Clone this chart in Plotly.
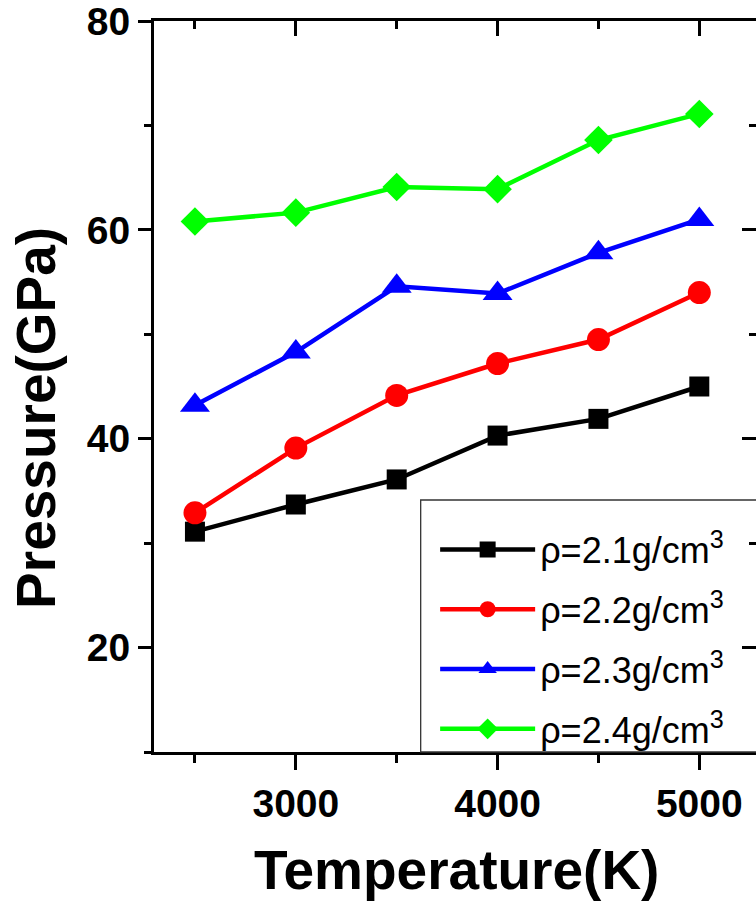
import plotly.graph_objects as go

temperature = [2500, 3000, 3500, 4000, 4500, 5000]
p_21 = [31.1, 33.7, 36.1, 40.3, 41.9, 45.0]
p_22 = [32.9, 39.1, 44.15, 47.2, 49.5, 54.0]
p_23 = [43.2, 48.3, 54.6, 53.9, 57.8, 61.0]
p_24 = [60.8, 61.65, 64.1, 63.9, 68.6, 71.1]

series_names = ["ρ=2.1g/cm<sup>3</sup>", "ρ=2.2g/cm<sup>3</sup>",
                "ρ=2.3g/cm<sup>3</sup>", "ρ=2.4g/cm<sup>3</sup>"]
series_values = [p_21, p_22, p_23, p_24]
series_colors = ["#000000", "#FF0000", "#0000FF", "#00FF00"]
series_symbols = ["square", "circle", "triangle-up", "diamond"]
series_sizes = [20, 23, 26, 22]

x_title = "Temperature(K)"
y_title = "Pressure(GPa)"

FONT = "Liberation Sans, Arial, sans-serif"

fig = go.Figure()
for name, vals, col, sym, sz in zip(series_names, series_values, series_colors,
                                    series_symbols, series_sizes):
    fig.add_trace(go.Scatter(
        x=temperature, y=vals, name=name, mode="lines+markers",
        line=dict(color=col, width=4.5),
        marker=dict(symbol=sym, size=sz, color=col, line=dict(width=0)),
        legendgroup=name,
    ))

axis_common = dict(showgrid=False, zeroline=False, linecolor="black",
                   linewidth=3, tickcolor="black", tickwidth=3)

fig.update_layout(
    width=756, height=905,
    margin=dict(l=154, r=0, t=18, b=153),
    paper_bgcolor="white", plot_bgcolor="white",
    font=dict(family=FONT, color="black"),
    xaxis=dict(range=[2297, 5281], tick0=3000, dtick=1000, ticks="outside",
               ticklen=15, showline=True, ticklabeloverflow="allow",
               tickfont=dict(size=39, family=FONT, weight="bold"),
               minor=dict(dtick=500, tick0=2500, ticks="outside", ticklen=8,
                          tickwidth=3, tickcolor="black"),
               **axis_common),
    yaxis=dict(range=[10, 80], tick0=0, dtick=20, ticks="outside",
               ticklen=13, showline=True, ticklabeloverflow="allow",
               tickfont=dict(size=39, family=FONT, weight="bold"),
               minor=dict(dtick=10, tick0=0, ticks="outside", ticklen=7,
                          tickwidth=3, tickcolor="black"),
               **axis_common),
    xaxis2=dict(overlaying="x", side="top", range=[2297, 5281], tick0=3000,
                dtick=1000, ticks="inside", ticklen=15, showticklabels=False,
                showline=True,
                minor=dict(dtick=500, tick0=2500, ticks="inside", ticklen=8,
                           tickwidth=3, tickcolor="black"),
                **axis_common),
    yaxis2=dict(overlaying="y", side="right", range=[10, 80], tick0=0,
                dtick=20, ticks="inside", ticklen=14, showticklabels=False,
                showline=False,
                minor=dict(dtick=10, tick0=0, ticks="inside", ticklen=7,
                           tickwidth=3, tickcolor="black"),
                **axis_common),
    legend=dict(x=0.467, y=0.318, xanchor="left", yanchor="top",
                bgcolor="rgba(0,0,0,0)", borderwidth=0,
                font=dict(size=36, family=FONT, color="black"),
                itemwidth=95, tracegroupgap=10),
    showlegend=True,
)

# dummy invisible trace to activate the overlay axes
fig.add_trace(go.Scatter(x=[None], y=[None], xaxis="x2", yaxis="y2",
                         showlegend=False, hoverinfo="skip"))

fig.add_shape(type="rect", xref="paper", yref="paper",
              x0=0.443, x1=1.05, y0=0.0, y1=0.3447,
              line=dict(color="#333333", width=1.3), fillcolor="rgba(0,0,0,0)")

fig.add_annotation(text=y_title, xref="paper", yref="paper", x=-0.196, y=0.457,
                   textangle=-90, showarrow=False, xanchor="center", yanchor="middle",
                   font=dict(size=55, family=FONT, weight="bold", color="black"))
fig.add_annotation(text=x_title, xref="paper", yref="paper", x=0.503, y=-0.1608,
                   showarrow=False, xanchor="center", yanchor="middle",
                   font=dict(size=55, family=FONT, weight="bold", color="black"))

fig.write_html("out.html", config={"displayModeBar": False},
               post_script="document.body.style.margin='0';document.body.style.overflow='hidden';")
